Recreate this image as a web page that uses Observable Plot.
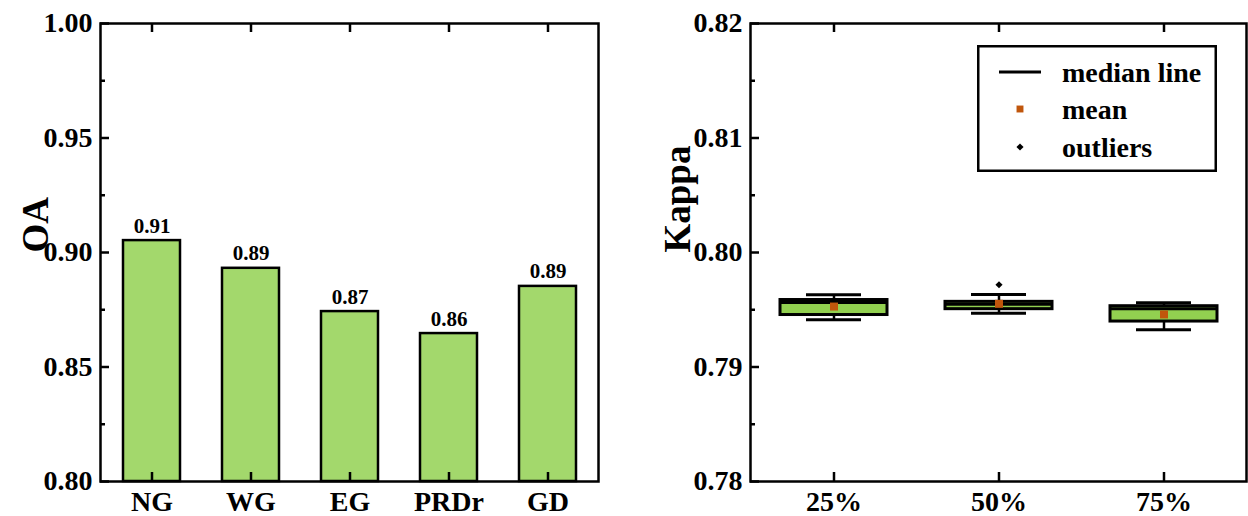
<!DOCTYPE html>
<html><head><meta charset="utf-8">
<script src="https://cdn.jsdelivr.net/npm/d3@7"></script>
<script src="https://cdn.jsdelivr.net/npm/@observablehq/plot@0.6"></script>
<style>
body{margin:0;background:#fff;}
#wrap{position:relative;width:1248px;height:516px;display:flex;}
#legend{position:absolute;left:977px;top:45px;}
</style></head><body><div id="wrap"><div id="left"></div><div id="right"></div><div id="legend"></div></div>
<script>
// ---- Left panel data (OA by region)
const regions = ["NG", "WG", "EG", "PRDr", "GD"];
const oaValues = [0.9052, 0.8931, 0.8742, 0.8646, 0.8852];
const oaTicks = [0.80, 0.85, 0.90, 0.95, 1.00];
const oaMinor = [0.825, 0.875, 0.925, 0.975];

// ---- Right panel data (Kappa box statistics)
const ratios = ["25%", "50%", "75%"];
const kLowWhisker = [0.79412, 0.79470, 0.79325];
const kQ1 = [0.79454, 0.79505, 0.79397];
const kMedian = [0.79563, 0.79549, 0.79508];
const kQ3 = [0.79585, 0.79569, 0.79531];
const kHighWhisker = [0.79631, 0.79633, 0.79561];
const kMean = [0.79528, 0.79552, 0.79459];
const outlierRatio = ["50%"];
const outlierValue = [0.79718];
const kTicks = [0.78, 0.79, 0.80, 0.81, 0.82];
const kMinor = [0.785, 0.795, 0.805, 0.815];

const legendLabels = ["median line", "mean", "outliers"];

const FONT = '"Liberation Serif", "Times New Roman", serif';
const barFill = "#a3d86c";
const boxFill = "#92d050";
const meanColor = "#c0560c";

const W = 624, H = 516, MT = 23, MB = 35;
const plotH = H - MT - MB;
const TICKFONT = "28px";

// Left chart
const L = {ml: 100, mr: 26};
const LW = W - L.ml - L.mr;
const oaData = regions.map((r, i) => ({r, v: oaValues[i]}));
const leftChart = Plot.plot({
  width: W, height: H,
  marginLeft: L.ml, marginRight: L.mr, marginTop: MT, marginBottom: MB,
  style: {fontFamily: FONT, fontWeight: "bold", fontSize: TICKFONT, color: "black", background: "white", overflow: "visible"},
  x: {type: "band", domain: regions, padding: 0},
  y: {domain: [0.8, 1.0]},
  marks: [
    Plot.barY(oaData, {x: "r", y1: 0.8, y2: "v", fill: barFill, stroke: "black", strokeWidth: 2.5, insetLeft: 21, insetRight: 21}),
    Plot.text(oaData, {x: "r", y: "v", text: d => d.v.toFixed(2), dy: -8, lineAnchor: "bottom", fontSize: 21}),
    Plot.tickY(oaTicks, {y: d => d, insetRight: LW - 9, strokeWidth: 2.5}),
    Plot.tickY(oaMinor, {y: d => d, insetRight: LW - 5, strokeWidth: 2.5}),
    Plot.tickX(regions, {x: d => d, insetTop: plotH - 9, strokeWidth: 2.5}),
    Plot.tickX(regions, {x: d => d, insetBottom: plotH - 9, strokeWidth: 2.5}),
    Plot.frame({stroke: "black", strokeWidth: 2.5}),
    Plot.axisY({ticks: oaTicks, tickSize: 0, tickPadding: 8, tickFormat: d3.format(".2f"), label: null}),
    Plot.axisX({tickSize: 0, tickPadding: 10, label: null}),
    Plot.text(["OA"], {frameAnchor: "left", rotate: -90, dx: -64, fontSize: 37})
  ]
});
document.getElementById("left").append(leftChart);

// Right chart
const R = {ml: 126, mr: 2};
const RW = W - R.ml - R.mr;
const boxData = ratios.map((r, i) => ({
  r, lo: kLowWhisker[i], q1: kQ1[i], med: kMedian[i], q3: kQ3[i], hi: kHighWhisker[i], mean: kMean[i]
}));
const outliers = outlierRatio.map((r, i) => ({r, v: outlierValue[i]}));
const rightChart = Plot.plot({
  width: W, height: H,
  marginLeft: R.ml, marginRight: R.mr, marginTop: MT, marginBottom: MB,
  style: {fontFamily: FONT, fontWeight: "bold", fontSize: TICKFONT, color: "black", background: "white", overflow: "visible"},
  x: {type: "band", domain: ratios, padding: 0},
  y: {domain: [0.78, 0.82]},
  marks: [
    Plot.ruleX(boxData, {x: "r", y1: "lo", y2: "hi", stroke: "black", strokeWidth: 2.5}),
    Plot.tickY(boxData, {x: "r", y: "lo", insetLeft: 55, insetRight: 55, stroke: "black", strokeWidth: 3}),
    Plot.tickY(boxData, {x: "r", y: "hi", insetLeft: 55, insetRight: 55, stroke: "black", strokeWidth: 3}),
    Plot.barY(boxData, {x: "r", y1: "q1", y2: "q3", fill: boxFill, stroke: "black", strokeWidth: 3, insetLeft: 29, insetRight: 29}),
    Plot.tickY(boxData, {x: "r", y: "med", insetLeft: 29, insetRight: 29, stroke: "black", strokeWidth: 3}),
    Plot.dot(boxData, {x: "r", y: "mean", symbol: "square", r: 4.5, fill: meanColor, stroke: null}),
    Plot.dot(outliers, {x: "r", y: "v", symbol: "diamond2", r: 3.2, fill: "black", stroke: null}),
    Plot.tickY(kTicks, {y: d => d, insetRight: RW - 9, strokeWidth: 2.5}),
    Plot.tickY(kMinor, {y: d => d, insetRight: RW - 5, strokeWidth: 2.5}),
    Plot.tickX(ratios, {x: d => d, insetTop: plotH - 9, strokeWidth: 2.5}),
    Plot.tickX(ratios, {x: d => d, insetBottom: plotH - 9, strokeWidth: 2.5}),
    Plot.frame({stroke: "black", strokeWidth: 2.5}),
    Plot.axisY({ticks: kTicks, tickSize: 0, tickPadding: 8, tickFormat: d3.format(".2f"), label: null}),
    Plot.axisX({tickSize: 0, tickPadding: 10, label: null}),
    Plot.text(["Kappa"], {frameAnchor: "left", rotate: -90, dx: -72, fontSize: 37})
  ]
});
document.getElementById("right").append(rightChart);

// Legend (layout element, not data)
const lg = d3.select("#legend").append("svg").attr("width", 240).attr("height", 127)
  .style("font-family", FONT).style("font-weight", "bold").style("font-size", "28px");
lg.append("rect").attr("x", 1.25).attr("y", 1.25).attr("width", 237.5).attr("height", 124.5)
  .attr("fill", "white").attr("stroke", "black").attr("stroke-width", 2.5);
const rowY = [27, 64, 102];
lg.append("line").attr("x1", 22).attr("x2", 64).attr("y1", rowY[0]).attr("y2", rowY[0]).attr("stroke", "black").attr("stroke-width", 3);
lg.append("path").attr("transform", `translate(43,${rowY[1]})`).attr("d", d3.symbol(d3.symbolSquare, Math.PI * 4.5 * 4.5 * 0.75)()).attr("fill", meanColor);
lg.append("path").attr("transform", `translate(43,${rowY[2]})`).attr("d", d3.symbol(d3.symbolDiamond2, Math.PI * 3.2 * 3.2)()).attr("fill", "black");
legendLabels.forEach((t, i) => {
  lg.append("text").attr("x", 85).attr("y", rowY[i] + 10).text(t);
});
</script>
</body></html>
